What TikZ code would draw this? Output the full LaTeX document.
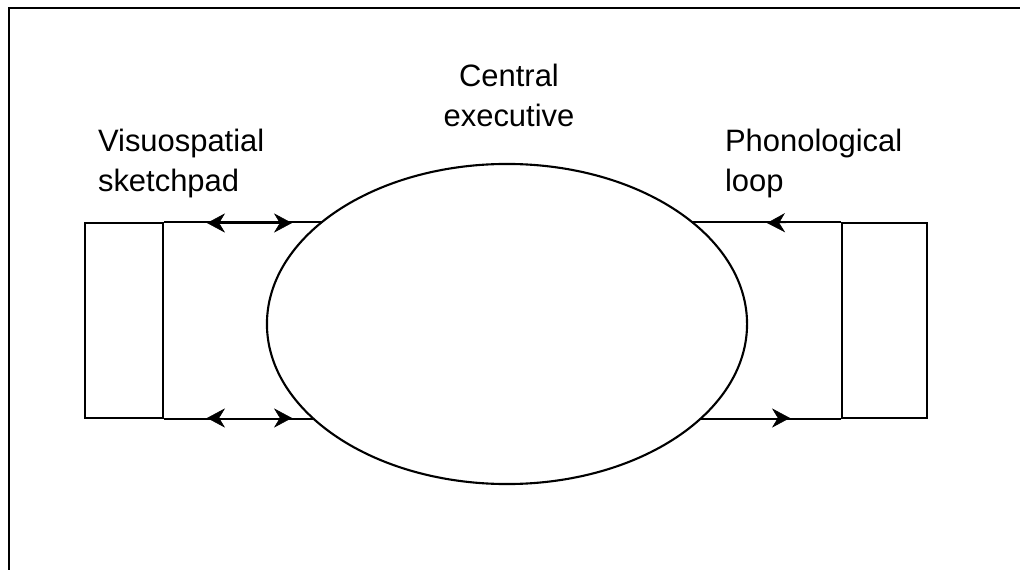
\documentclass[tikz,border=0pt]{standalone}
\usepackage{fontspec}
\setmainfont{Liberation Sans}
\usetikzlibrary{arrows.meta, positioning, shapes.geometric, backgrounds}

\begin{document}
\begin{tikzpicture}[x=0.025cm, y=-0.025cm, line width=1.5pt,
    >={Stealth[length=0.45cm, width=0.48cm]},
    store/.style={rectangle, draw, inner sep=0pt, minimum height=4.875cm},
    link/.style={draw, line width=1.5pt},
    lbl/.style={inner sep=0pt, font=\fontsize{22}{28.5}\selectfont}]
    \useasboundingbox (0,0) rectangle (1020,570);
    % frame
    \draw[line width=2pt] (9,570) -- (9,8) -- (1020,8);
    \node[ellipse, draw, fill=white, inner sep=0pt,
          minimum width=12cm, minimum height=8cm] (exec) at (507,324) {};
    \node[store, minimum width=1.95cm] (vs) at (124,320.5) {};
    \node[store, minimum width=2.125cm] (pl) at (884.5,320.5) {};
    % base of the last line
    \node[lbl, align=center, anchor=base] (execlbl) at (509,127) {Central\\executive};
    \node[lbl, align=left, anchor=base west] (vslbl) at (97,192) {Visuospatial\\sketchpad};
    \node[lbl, align=left, anchor=base west] (pllbl) at (724,192) {Phonological\\loop};
    % links run under the ellipse
    \begin{pgfonlayer}{background}
        \path[link] (vs.north east) -- (pl.north west);
        \path[link] (vs.south east) -- (pl.south west);
    \end{pgfonlayer}
    \coordinate (vt1) at (207,223);
    \coordinate (vt2) at (292,223);
    \coordinate (vb1) at (207,418);
    \coordinate (vb2) at (292,418);
    \coordinate (pt) at (767,223);
    \coordinate (pb1) at (720,418);
    \coordinate (pb2) at (790,418);
    \draw[<->] (vt1) -- (vt2);
    \draw[<->] (vb1) -- (vb2);
    \draw[->] (pl.north west) -- (pt);
    \draw[->] (pb1) -- (pb2);
\end{tikzpicture}
\end{document}
